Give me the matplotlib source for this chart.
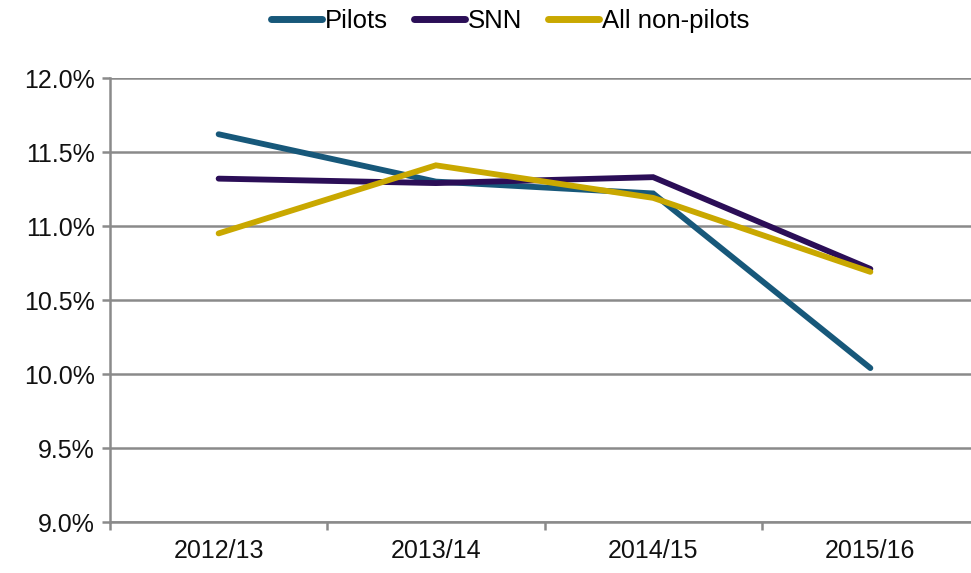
import matplotlib
matplotlib.use("Agg")
import matplotlib.pyplot as plt
from matplotlib.ticker import FuncFormatter, FixedLocator, NullFormatter

plt.rcParams['font.family'] = ['Liberation Sans Narrow', 'Liberation Sans', 'DejaVu Sans']

categories = ["2012/13", "2013/14", "2014/15", "2015/16"]
pilots = [11.62, 11.30, 11.22, 10.04]
snn = [11.32, 11.29, 11.33, 10.71]
non_pilots = [10.95, 11.41, 11.19, 10.69]
series_names = ["Pilots", "SNN", "All non-pilots"]
colors = ["#17587A", "#2B0E57", "#C9A800"]
y_ticks = [9.0, 9.5, 10.0, 10.5, 11.0, 11.5, 12.0]

fig = plt.figure(figsize=(9.71, 5.73), dpi=100)
ax = fig.add_axes([110/971, 1-522/573, (979-110)/971, (522-78)/573])

x = list(range(len(categories)))
for vals, name, c in zip([pilots, snn, non_pilots], series_names, colors):
    ax.plot(x, vals, color=c, lw=4.2, label=name, solid_capstyle='round', solid_joinstyle='miter', zorder=3)

ax.set_xlim(-0.5, len(categories) - 0.5)
ax.set_ylim(9.0, 12.0)
ax.set_yticks(y_ticks)
ax.yaxis.set_major_formatter(FuncFormatter(lambda v, p: f"{v:.1f}%"))
ax.grid(axis='y', color='#8a8a8a', lw=1.8, zorder=1)
ax.set_axisbelow(True)

ax.xaxis.set_major_locator(FixedLocator([-0.5, 0.5, 1.5, 2.5]))
ax.xaxis.set_major_formatter(NullFormatter())
ax.xaxis.set_minor_locator(FixedLocator(x))
ax.set_xticklabels(categories, minor=True)
ax.tick_params(axis='x', which='major', length=6, width=1.8, color='#8a8a8a')
ax.tick_params(axis='x', which='minor', length=0, pad=12, labelsize=18, labelcolor='#111111')
ax.tick_params(axis='y', length=6, width=1.8, color='#8a8a8a', labelsize=18, labelcolor='#111111', pad=5)

for s in ['top', 'right']:
    ax.spines[s].set_visible(False)
for s in ['left', 'bottom']:
    ax.spines[s].set_color('#8a8a8a')
    ax.spines[s].set_linewidth(1.8)

leg = fig.legend(loc='center', bbox_to_anchor=(510/971, 1-21/573), ncol=3, frameon=False,
                 fontsize=18.5, handlelength=2.0, handletextpad=0.1, columnspacing=1.0)
for h in leg.get_lines():
    h.set_linewidth(5)
    h.set_solid_capstyle('round')

fig.savefig("out.png", dpi=100)
